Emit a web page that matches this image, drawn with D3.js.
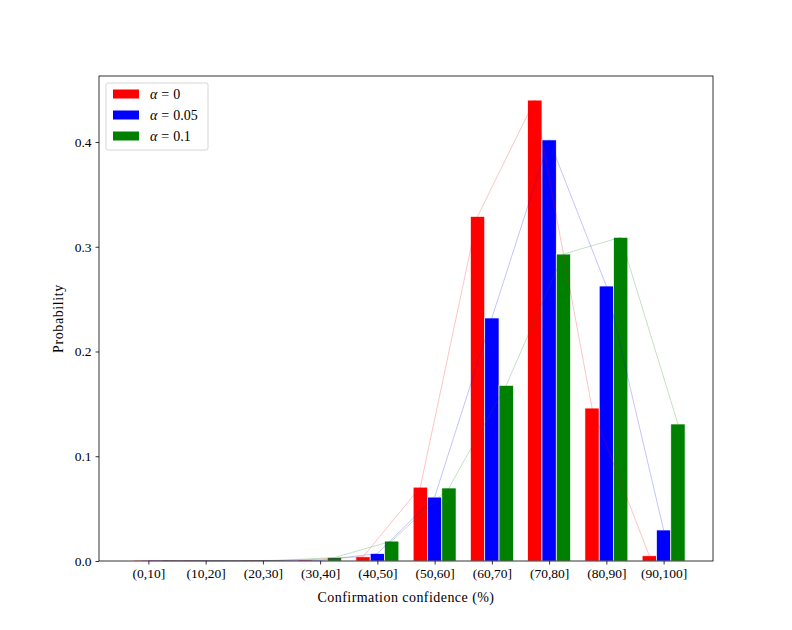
<!DOCTYPE html>
<html>
<head>
<meta charset="utf-8">
<script src="https://cdn.jsdelivr.net/npm/d3@7"></script>
<style>
    body { margin: 0; background: #fff; }
    text { font-family: "Liberation Serif", "DejaVu Serif", serif; }
</style>
</head>
<body>
<div id="chart"></div>
<script>
// bins on the x axis
const categories = ["(0,10]", "(10,20]", "(20,30]", "(30,40]", "(40,50]",
    "(50,60]", "(60,70]", "(70,80]", "(80,90]", "(90,100]"];

// probability per bin for each alpha
const alpha0 = [0.0005, 0.0003, 0.0003, 0.001, 0.004, 0.0705, 0.329, 0.440, 0.146, 0.005];
const alpha005 = [0.0003, 0.0003, 0.0003, 0.0008, 0.007, 0.061, 0.232, 0.402, 0.2625, 0.0296];
const alpha01 = [0.0002, 0.0002, 0.0005, 0.0033, 0.019, 0.0697, 0.1677, 0.293, 0.309, 0.1308];

const alphaLabels = ["0", "0.05", "0.1"];
const yTicks = [0, 0.1, 0.2, 0.3, 0.4];

const settings = {
    width: 792,
    height: 630,
    margins: {top: 76, right: 79, bottom: 69, left: 99},
    colors: ["#ff0000", "#0000ff", "#008000"],
    barWidth: 0.25
};

const series = [alpha0, alpha005, alpha01].map((values, i) => ({
    label: alphaLabels[i],
    color: settings.colors[i],
    offset: (i - 1) * settings.barWidth,
    values: values
}));

const m = settings.margins;
const svg = d3.select("#chart")
    .append("svg")
    .attr("width", settings.width)
    .attr("height", settings.height);

// matplotlib style auto margins: 5% around the bar extent
const lo = -1.5 * settings.barWidth;
const hi = categories.length - 1 + 1.5 * settings.barWidth;
const pad = (hi - lo) * 0.05;

const xScale = d3.scaleLinear()
    .domain([lo - pad, hi + pad])
    .range([m.left, settings.width - m.right]);

const yScale = d3.scaleLinear()
    .domain([0, 0.463])
    .range([settings.height - m.bottom, m.top]);

const plot = svg.append("g");

// bars
series.forEach(s => {
    plot.append("g")
        .selectAll("rect")
        .data(s.values)
        .join("rect")
        .attr("x", (d, i) => xScale(i + s.offset - settings.barWidth / 2))
        .attr("y", d => yScale(d))
        .attr("width", xScale(settings.barWidth) - xScale(0))
        .attr("height", d => yScale(0) - yScale(d))
        .attr("fill", s.color)
        .attr("stroke", "white")
        .attr("stroke-width", 0.7);
});

// thin lines linking the tops of each series
const line = d3.line()
    .x(d => d.x)
    .y(d => d.y);

series.forEach(s => {
    const pts = s.values.map((v, i) => ({x: xScale(i + s.offset), y: yScale(v)}));
    plot.append("path")
        .attr("d", line(pts))
        .attr("fill", "none")
        .attr("stroke", s.color)
        .attr("stroke-opacity", 0.4)
        .attr("stroke-width", 0.6);
});

// axes
const xAxis = d3.axisBottom(xScale)
    .tickValues(d3.range(categories.length))
    .tickFormat(i => categories[i])
    .tickSizeOuter(0)
    .tickSize(3.5)
    .tickPadding(4);

const yAxis = d3.axisLeft(yScale)
    .tickValues(yTicks)
    .tickFormat(d3.format(".1f"))
    .tickSizeOuter(0)
    .tickSize(3.5)
    .tickPadding(4);

const gx = svg.append("g")
    .attr("transform", `translate(0,${settings.height - m.bottom})`)
    .call(xAxis);
const gy = svg.append("g")
    .attr("transform", `translate(${m.left},0)`)
    .call(yAxis);

[gx, gy].forEach(g => {
    g.select(".domain").remove();
    g.selectAll("line").attr("stroke", "black").attr("stroke-width", 0.8);
    g.selectAll("text")
        .attr("fill", "black")
        .style("font-size", "13.5px")
        .style("font-family", "'Liberation Serif', serif");
});

// frame
svg.append("rect")
    .attr("x", m.left)
    .attr("y", m.top)
    .attr("width", settings.width - m.left - m.right)
    .attr("height", settings.height - m.top - m.bottom)
    .attr("fill", "none")
    .attr("stroke", "black")
    .attr("stroke-width", 0.8);

// axis labels (computer modern runs wider, so stretch a little)
svg.append("text")
    .attr("x", (m.left + settings.width - m.right) / 2)
    .attr("y", 602)
    .attr("text-anchor", "middle")
    .style("font-size", "14px")
    .style("letter-spacing", "0.45px")
    .text("Confirmation confidence (%)");

svg.append("text")
    .attr("transform", "rotate(-90)")
    .attr("x", -(m.top + settings.height - m.bottom) / 2)
    .attr("y", 63)
    .attr("text-anchor", "middle")
    .style("font-size", "14px")
    .style("letter-spacing", "0.6px")
    .text("Probability");

// legend
const legend = svg.append("g").attr("transform", "translate(106,83)");
legend.append("rect")
    .attr("width", 102)
    .attr("height", 67)
    .attr("rx", 2)
    .attr("fill", "white")
    .attr("fill-opacity", 0.8)
    .attr("stroke", "#cccccc")
    .attr("stroke-width", 0.8);

series.forEach((s, i) => {
    const row = legend.append("g").attr("transform", `translate(0,${11 + i * 21})`);
    row.append("rect")
        .attr("x", 7)
        .attr("y", -4.5)
        .attr("width", 26)
        .attr("height", 9)
        .attr("fill", s.color);
    const t = row.append("text")
        .attr("x", 44)
        .attr("y", 4.5)
        .style("font-size", "14px");
    t.append("tspan").style("font-style", "italic").text("\u03b1");
    t.append("tspan").attr("dx", 4).text("=");
    t.append("tspan").attr("dx", 4).text(s.label);
});
</script>
</body>
</html>
